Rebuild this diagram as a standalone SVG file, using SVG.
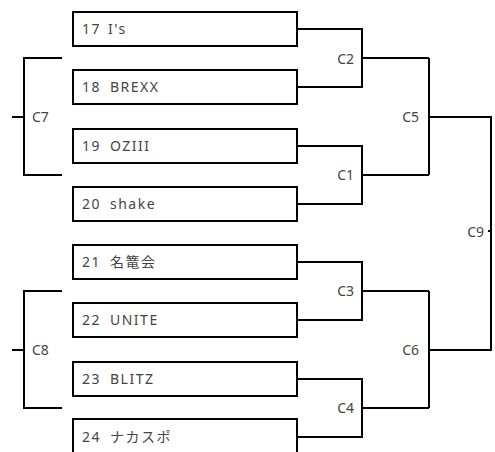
<svg xmlns="http://www.w3.org/2000/svg" width="495" height="452" viewBox="0 0 495 452">
<style>
.box{fill:#fff;stroke:#000;stroke-width:2}
.ln{fill:none;stroke:#000;stroke-width:2}
.t{font-family:"Noto Sans","Noto Sans CJK JP",sans-serif;font-size:14px;fill:#444;letter-spacing:1.5px}
.lb{font-family:"Noto Sans","Noto Sans CJK JP",sans-serif;font-size:14px;fill:#444}
</style>
<rect width="495" height="452" fill="#fff"/>
<g id="connectors">
<path class="ln" d="M297 29H362V87H297M362 58H429"/>
<path class="ln" d="M297 146H362V204H297M362 175H429"/>
<path class="ln" d="M429 58V175M429 117H491"/>
<path class="ln" d="M297 262H362V320H297M362 291H429"/>
<path class="ln" d="M297 379H362V437H297M362 408H429"/>
<path class="ln" d="M429 291V408M429 350H491"/>
<path class="ln" d="M491 116V351M488 231H491"/>
<path class="ln" d="M62 58H24V175H62M12 117H24"/>
<path class="ln" d="M62 291H24V408H62M12 350H24"/>
<text class="lb" x="354" y="64" text-anchor="end">C2</text>
<text class="lb" x="354" y="180" text-anchor="end">C1</text>
<text class="lb" x="419" y="122" text-anchor="end">C5</text>
<text class="lb" x="354" y="296" text-anchor="end">C3</text>
<text class="lb" x="354" y="413" text-anchor="end">C4</text>
<text class="lb" x="419" y="355" text-anchor="end">C6</text>
<text class="lb" x="484" y="237" text-anchor="end">C9</text>
<text class="lb" x="32" y="122">C7</text>
<text class="lb" x="32" y="355">C8</text>
</g>
<g id="n17"><rect class="box" x="73" y="12" width="224" height="34"/><text class="t" x="82" y="34">17<tspan x="108">I's</tspan></text></g>
<g id="n18"><rect class="box" x="73" y="70" width="224" height="34"/><text class="t" x="82" y="92">18<tspan x="110">BREXX</tspan></text></g>
<g id="n19"><rect class="box" x="73" y="129" width="224" height="34"/><text class="t" x="82" y="151">19<tspan x="110">OZIII</tspan></text></g>
<g id="n20"><rect class="box" x="73" y="187" width="224" height="34"/><text class="t" x="82" y="209">20<tspan x="110">shake</tspan></text></g>
<g id="n21"><rect class="box" x="73" y="245" width="224" height="34"/><text class="t" x="82" y="267">21<tspan x="110">名篭会</tspan></text></g>
<g id="n22"><rect class="box" x="73" y="303" width="224" height="34"/><text class="t" x="82" y="325">22<tspan x="110">UNITE</tspan></text></g>
<g id="n23"><rect class="box" x="73" y="362" width="224" height="34"/><text class="t" x="82" y="384">23<tspan x="110">BLITZ</tspan></text></g>
<g id="n24"><rect class="box" x="73" y="419" width="224" height="34"/><text class="t" x="82" y="442">24<tspan x="110">ナカスポ</tspan></text></g>
</svg>
